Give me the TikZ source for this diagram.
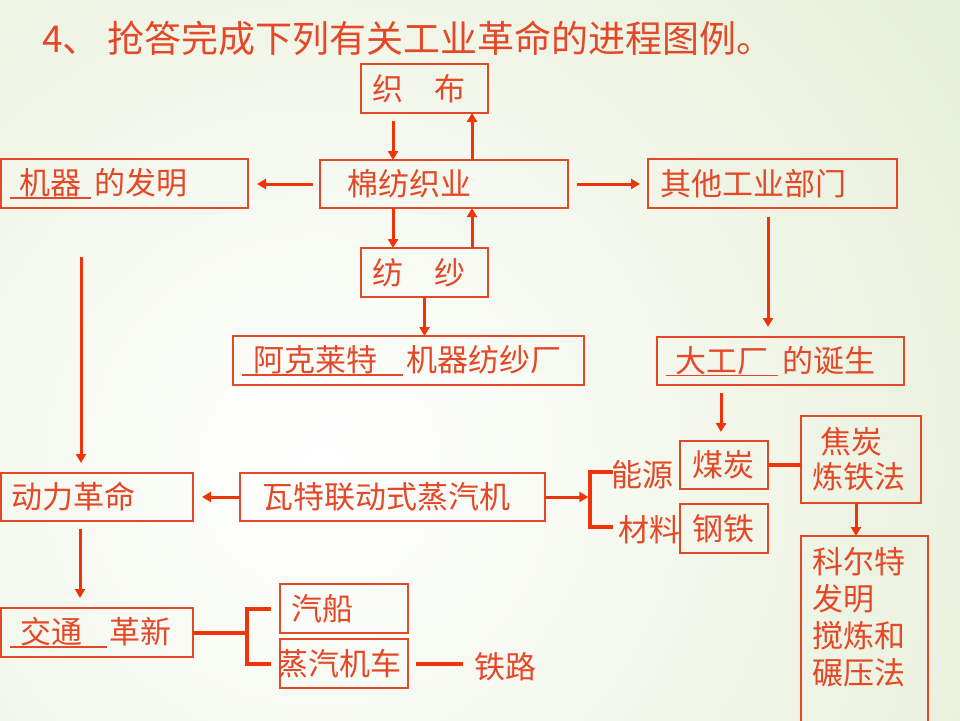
\documentclass[tikz,border=0pt]{standalone}
\usepackage{fontspec}
\setmainfont{Noto Sans CJK SC}
\usetikzlibrary{arrows.meta}

\definecolor{inkred}{RGB}{228,72,38}
\definecolor{arrred}{RGB}{238,52,8}
\definecolor{bggreen}{RGB}{214,229,190}

% underlined blank of an answer
\newcommand{\fillin}[1]{\sbox0{#1}\rlap{\rule[-4pt]{\wd0}{1.3pt}}\usebox0}

\tikzset{
  box/.style={draw=inkred, line width=1.2pt, text=inkred, anchor=north west,
    align=left, inner ysep=0pt, outer sep=0pt, minimum height=49pt},
  word/.style={text=inkred, inner sep=0pt},
  arr/.style={draw=arrred, line width=3pt, -{Triangle[length=9pt,width=10pt]}},
  link/.style={draw=arrred, line width=4pt},
}

\begin{document}
\begin{tikzpicture}[x=1pt,y=-1pt,font=\fontsize{31}{36}\selectfont]
\useasboundingbox (0,0) rectangle (960,720);
\begin{scope}
\clip (0,0) rectangle (960,720);
\shade[inner color=white, outer color=bggreen] (320,470) circle (1300pt);
\end{scope}

\node[word, anchor=west, font=\fontsize{37}{40}\selectfont] (title) at (42,38)
  {4、\hspace*{8pt}抢答完成下列有关工业革命的进程图例。};

% cotton industry
\node[box, inner xsep=11pt, text width=105pt] (zhibu) at (361,64) {织\hspace*{1em}布};
\node[box, inner xsep=27pt, text width=194pt, minimum height=48pt] (mianfang) at (320,160) {棉纺织业};
\node[box, inner xsep=11pt, text width=105pt] (fangsha) at (361,248) {纺\hspace*{1em}纱};
\node[box, inner xsep=9pt, text width=229pt] (jiqi) at (1,159)
  {\fillin{\hspace*{9pt}机器\hspace*{10pt}}\hspace*{3pt}的发明};
\node[box, inner xsep=12pt, text width=225pt] (qita) at (648,159) {其他工业部门};
\node[box, inner xsep=9pt, text width=333pt] (akelaite) at (233,336)
  {\fillin{\hspace*{11pt}阿克莱特\hspace*{26pt}}\hspace*{3pt}机器纺纱厂};
\node[box, inner xsep=9pt, text width=229pt, minimum height=48pt] (dagongchang) at (657,337)
  {\fillin{\hspace*{9pt}大工厂\hspace*{10pt}}\hspace*{4pt}的诞生};

% coal and iron
\node[box, inner xsep=12pt, text width=64pt, minimum height=48pt] (meitan) at (680,441) {煤炭};
\node[box, inner xsep=12pt, text width=64pt] (gangtie) at (680,504) {钢铁};
\node[box, inner xsep=11pt, text width=98pt, minimum height=87pt, font=\fontsize{31}{35}\selectfont] (jiaotan) at (801,416)
  {\hspace*{8pt}焦炭\\炼铁法};
\node[box, inner xsep=11pt, inner ysep=11pt, text width=105pt, font=\fontsize{31}{37}\selectfont] (keerte) at (801,536)
  {科尔特\\发明\\搅炼和\\碾压法\\[40pt]\mbox{}};
\node[word] (nengyuan) at (642.5,475) {能源};
\node[word] (cailiao) at (649,530) {材料};

% steam power and transport
\node[box, inner xsep=10pt, text width=172pt, minimum height=48pt] (donglim) at (1,473) {动力革命};
\node[box, inner xsep=22pt, text width=261pt, minimum height=48pt] (wate) at (240,473) {瓦特联动式蒸汽机};
\node[box, inner xsep=9pt, text width=174pt] (jiaotong) at (1,608)
  {\fillin{\hspace*{10pt}交通\hspace*{25pt}}\hspace*{2pt}革新};
\node[box, inner xsep=11pt, text width=106pt] (qichuan) at (280,584) {汽船};
\node[box, inner xsep=0pt, text width=128pt] (jiche) at (280,639) {\hspace*{-3pt}蒸汽机车};
\node[word] (tielu) at (505.5,667) {铁路};

% arrows round the cotton industry
\draw[arr] ([xshift=-31.5pt,yshift=-8pt]zhibu.south) -- ([xshift=-31.5pt]zhibu.south |- mianfang.north);
\draw[arr] ([xshift=47.5pt]zhibu.south |- mianfang.north) -- ([xshift=47.5pt]zhibu.south);
\draw[arr] ([xshift=-31.5pt]fangsha.north |- mianfang.south) -- ([xshift=-31.5pt]fangsha.north);
\draw[arr] ([xshift=47.5pt]fangsha.north) -- ([xshift=47.5pt]fangsha.north |- mianfang.south);
\draw[arr] (fangsha.south) -- (fangsha.south |- akelaite.north);
\draw[arr] ([xshift=-7pt]mianfang.west) -- ([xshift=9pt]mianfang.west -| jiqi.east);
\draw[arr] ([xshift=9pt]mianfang.east) -- ([xshift=-8pt]mianfang.east -| qita.west);
\draw[arr] ([xshift=-4.5pt,yshift=-9pt]qita.south) -- ([xshift=-4.5pt,yshift=10pt]qita.south |- dagongchang.north);
\draw[arr] ([xshift=-3pt,yshift=-8pt]meitan.north |- dagongchang.south) -- ([xshift=-3pt,yshift=9pt]meitan.north);

% power and transport
\draw[arr] ([xshift=-43.5pt,yshift=-49pt]jiqi.south) -- ([xshift=-43.5pt,yshift=10pt]jiqi.south |- donglim.north);
\draw[arr] (wate.west) -- ([xshift=9pt]wate.west -| donglim.east);
\draw[arr] ([xshift=-17pt,yshift=-8pt]donglim.south) -- ([xshift=-17pt,yshift=10pt]donglim.south |- jiaotong.north);

\coordinate (fork) at ([xshift=-21pt]nengyuan.west);
\draw[link] ([xshift=2pt,yshift=3pt]nengyuan.west) -| (fork) |- ([xshift=-5pt,yshift=3pt]cailiao.west);
\draw[arr, shorten >=2pt] (wate.east) -- (wate.east -| fork);
\draw[link] (meitan.east) -- (meitan.east -| jiaotan.west);
\draw[arr] ([xshift=-5pt]jiaotan.south) -- ([xshift=-5pt]jiaotan.south |- keerte.north);

\coordinate (split) at ([xshift=-33pt]qichuan.west);
\draw[link] ([xshift=-9pt]qichuan.west) -| (split) |- ([xshift=-9pt]jiche.west);
\draw[link] (jiaotong.east) -- (jiaotong.east -| split);
\draw[link] ([xshift=8pt]jiche.east) -- ([xshift=-11pt]jiche.east -| tielu.west);
\end{tikzpicture}
\end{document}
